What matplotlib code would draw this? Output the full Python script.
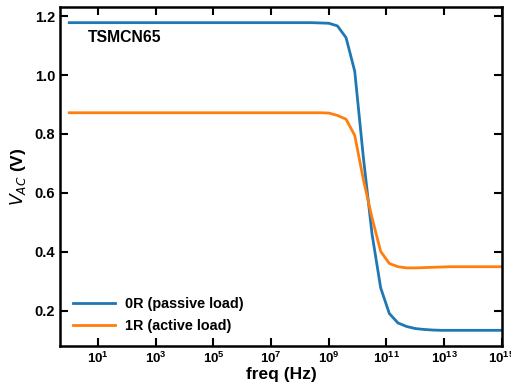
import numpy as np
import matplotlib
matplotlib.use("Agg")
import matplotlib.pyplot as plt

# frequency grid: 10^0 .. 10^15, 0.3 decade steps
log_freq = [i * 0.3 for i in range(51)]

# 0R (passive load)
v_passive = [1.178] * 29 + [1.177, 1.176, 1.167, 1.127, 1.013, 0.720, 0.460,
                            0.277, 0.190, 0.158, 0.146, 0.139, 0.136, 0.134] + [0.133] * 8
# 1R (active load)
v_active = [0.872] * 30 + [0.871, 0.863, 0.850, 0.795, 0.645, 0.515, 0.401,
                           0.360, 0.349, 0.345, 0.345, 0.346, 0.347, 0.348] + [0.349] * 7

labels = ["0R (passive load)", "1R (active load)"]
title_txt = "TSMCN65"

plt.rcParams['font.family'] = ['Liberation Sans', 'DejaVu Sans']
plt.rcParams['font.weight'] = 'bold'
# thin oblique V for the math part of the y label
plt.rcParams['mathtext.fontset'] = 'custom'
plt.rcParams['mathtext.it'] = 'DejaVu Sans:style=italic:weight=normal'
plt.rcParams['mathtext.rm'] = 'DejaVu Sans:weight=normal'

freq = 10 ** np.array(log_freq)

fig = plt.figure(figsize=(5.11, 3.87), dpi=100)
ax = fig.add_axes([0.1174, 0.1067, 0.8646, 0.8745])

ax.plot(freq, v_passive, color='#1f77b4', lw=2, label=labels[0])
ax.plot(freq, v_active, color='#ff7f0e', lw=2, label=labels[1])

ax.set_xscale('log')
ax.set_xlim(10 ** -0.32, 1e15)
ax.set_xticks([10.0 ** k for k in range(1, 16, 2)])
ax.minorticks_off()
ax.set_yticks([0.2, 0.4, 0.6, 0.8, 1.0, 1.2])

ax.tick_params(direction='in', top=True, right=True, length=6, width=1.5)
ax.tick_params(axis='x', labelsize=9.5)
ax.tick_params(axis='y', labelsize=10.5)
for s in ax.spines.values():
    s.set_linewidth(1.8)

ax.set_xlabel('freq (Hz)', fontsize=12.5, fontweight='bold', labelpad=1)
ax.set_ylabel(r'$V_{AC}$ (V)', fontsize=12.5, fontweight='bold', labelpad=5)

ax.text(0.063, 0.911, title_txt, transform=ax.transAxes, fontsize=11.3,
        fontweight='bold', va='center')

ax.legend(loc='lower left', frameon=False, fontsize=10.4, handlelength=2.9,
          handletextpad=0.7, bbox_to_anchor=(0.0, 0.0))

fig.savefig('out.png', dpi=100)
